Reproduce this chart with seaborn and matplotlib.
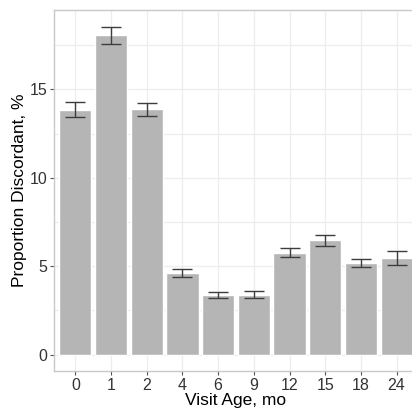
import numpy as np
import pandas as pd
import seaborn as sns
import matplotlib.pyplot as plt
from matplotlib.ticker import MultipleLocator

visit_age = ['0', '1', '2', '4', '6', '9', '12', '15', '18', '24']
prop = [13.86, 18.05, 13.88, 4.60, 3.38, 3.39, 5.77, 6.46, 5.20, 5.45]
err = [0.41, 0.49, 0.36, 0.23, 0.18, 0.21, 0.25, 0.30, 0.23, 0.40]

df = pd.DataFrame({'age': visit_age, 'prop': prop, 'err': err})

sns.set_style('white')
plt.rcParams['font.family'] = ['Liberation Sans', 'DejaVu Sans']

fig = plt.figure(figsize=(4.12, 4.16), dpi=100)
ax = fig.add_axes([54/412, 45/416, 364/412, 361/416])

sns.barplot(data=df, x='age', y='prop', color='#B5B5B5', width=0.9,
            errorbar=None, saturation=1, ax=ax, zorder=2)
ax.errorbar(x=np.arange(len(df)), y=df['prop'], yerr=df['err'], fmt='none',
            ecolor='#3d3d3d', elinewidth=1.0, capsize=7.2, capthick=1.0, zorder=3)

ax.set_xlim(-0.6, 9.6)
ax.set_ylim(-0.93, 19.49)
ax.set_yticks([0, 5, 10, 15])
ax.yaxis.set_minor_locator(MultipleLocator(2.5))
ax.grid(True, which='both', color='#EDEDED', linewidth=0.9, zorder=0)
ax.set_axisbelow(True)

for s in ax.spines.values():
    s.set_color('#C8C8C8')
    s.set_linewidth(1.0)

ax.tick_params(axis='both', which='major', length=3, width=0.8, color='#555555',
               labelsize=11.5, labelcolor='#333333', pad=2, left=True, bottom=True)
ax.tick_params(axis='y', which='minor', length=0)

ax.set_xlabel('Visit Age, mo', fontsize=12.5, color='black', labelpad=0)
ax.set_ylabel('Proportion Discordant, %', fontsize=12.5, color='black', labelpad=2)

fig.savefig('out.png', dpi=100)
